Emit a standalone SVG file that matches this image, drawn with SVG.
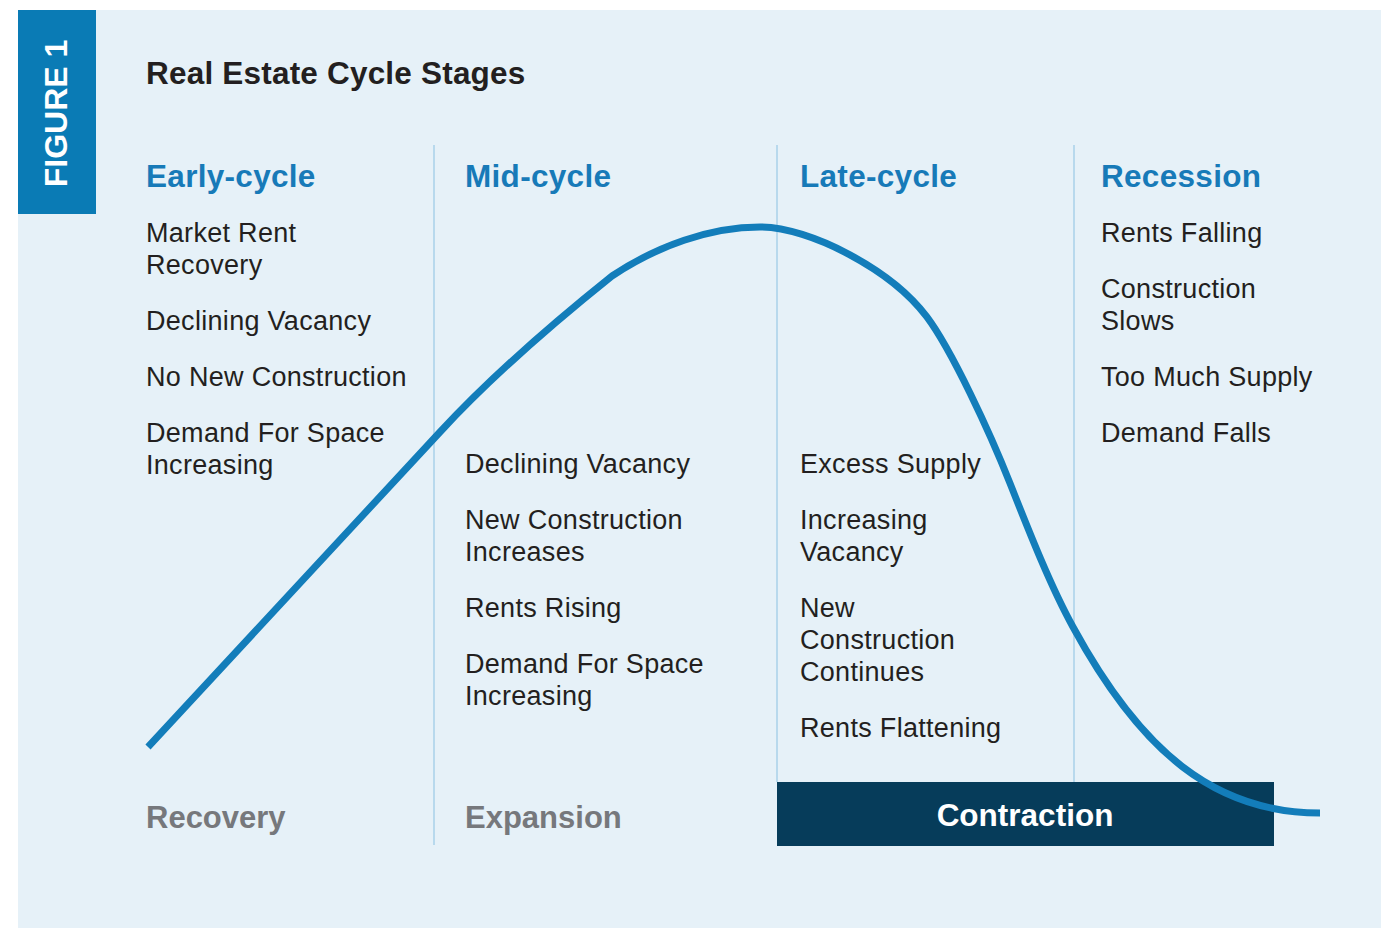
<svg xmlns="http://www.w3.org/2000/svg" width="1381" height="928" viewBox="0 0 1381 928">
  <style>
    .body { font-family: "Liberation Sans", Arial, sans-serif; font-size: 27px; letter-spacing: 0.3px; fill: #231f20; }
    .head { font-family: "Liberation Sans", Arial, sans-serif; font-size: 31.5px; letter-spacing: 0.3px; font-weight: bold; fill: #177ab8; }
    .phase { font-family: "Liberation Sans", Arial, sans-serif; font-size: 31px; font-weight: bold; fill: #76787c; }
    .divider { stroke: #a9d1ea; stroke-width: 1.5; fill: none; }
  </style>

  <!-- page and panel -->
  <rect x="0" y="0" width="1381" height="928" fill="#ffffff"/>
  <rect x="18" y="10" width="1363" height="918" fill="#e6f1f8"/>

  <!-- figure tab -->
  <g id="figure-tab">
    <rect x="18" y="10" width="78" height="204" fill="#0a7bb5"/>
    <text transform="translate(67,113.5) rotate(-90)" text-anchor="middle" font-family="'Liberation Sans', Arial, sans-serif" font-size="32" font-weight="bold" fill="#ffffff">FIGURE 1</text>
  </g>

  <!-- title -->
  <text id="title" x="146" y="84" font-family="'Liberation Sans', Arial, sans-serif" font-size="31.5" letter-spacing="0.2" font-weight="bold" fill="#231f20">Real Estate Cycle Stages</text>

  <!-- column dividers -->
  <g id="dividers">
    <line class="divider" x1="434" y1="145" x2="434" y2="845"/>
    <line class="divider" x1="777" y1="145" x2="777" y2="782"/>
    <line class="divider" x1="1074" y1="145" x2="1074" y2="782"/>
  </g>

  <!-- contraction bar -->
  <g id="contraction">
    <rect x="777" y="782" width="497" height="64" fill="#063c5a"/>
    <text x="1025" y="826" text-anchor="middle" font-family="'Liberation Sans', Arial, sans-serif" font-size="31.5" font-weight="bold" fill="#ffffff">Contraction</text>
  </g>

  <!-- early-cycle column -->
  <g id="early-cycle">
    <text class="head" x="146" y="187">Early-cycle</text>
    <text class="body" x="146" y="242">Market Rent</text>
    <text class="body" x="146" y="274">Recovery</text>
    <text class="body" x="146" y="330">Declining Vacancy</text>
    <text class="body" x="146" y="386">No New Construction</text>
    <text class="body" x="146" y="442">Demand For Space</text>
    <text class="body" x="146" y="474">Increasing</text>
    <text class="phase" x="146" y="828">Recovery</text>
  </g>

  <!-- mid-cycle column -->
  <g id="mid-cycle">
    <text class="head" x="465" y="187">Mid-cycle</text>
    <text class="body" x="465" y="473">Declining Vacancy</text>
    <text class="body" x="465" y="529">New Construction</text>
    <text class="body" x="465" y="561">Increases</text>
    <text class="body" x="465" y="617">Rents Rising</text>
    <text class="body" x="465" y="673">Demand For Space</text>
    <text class="body" x="465" y="705">Increasing</text>
    <text class="phase" x="465" y="828">Expansion</text>
  </g>

  <!-- late-cycle column -->
  <g id="late-cycle">
    <text class="head" x="800" y="187">Late-cycle</text>
    <text class="body" x="800" y="473">Excess Supply</text>
    <text class="body" x="800" y="529">Increasing</text>
    <text class="body" x="800" y="561">Vacancy</text>
    <text class="body" x="800" y="617">New</text>
    <text class="body" x="800" y="649">Construction</text>
    <text class="body" x="800" y="681">Continues</text>
    <text class="body" x="800" y="737">Rents Flattening</text>
  </g>

  <!-- recession column -->
  <g id="recession">
    <text class="head" x="1101" y="187">Recession</text>
    <text class="body" x="1101" y="242">Rents Falling</text>
    <text class="body" x="1101" y="298">Construction</text>
    <text class="body" x="1101" y="330">Slows</text>
    <text class="body" x="1101" y="386">Too Much Supply</text>
    <text class="body" x="1101" y="442">Demand Falls</text>
  </g>

  <!-- cycle curve -->
  <g id="connectors">
    <path id="cycle-curve" fill="none" stroke="#137dba" stroke-width="7" stroke-linecap="butt"
      d="M148,747 L440,432
         C495,372.6 557,320 612,276
         C657,246 710,227 760,227
         C810,227 891.7,270 926.7,316.7
         C951.7,350 990,432.7 1010,483.3
         C1030,533.9 1051,587 1073,627
         C1141,752 1215,813 1320,813"/>
  </g>
</svg>
